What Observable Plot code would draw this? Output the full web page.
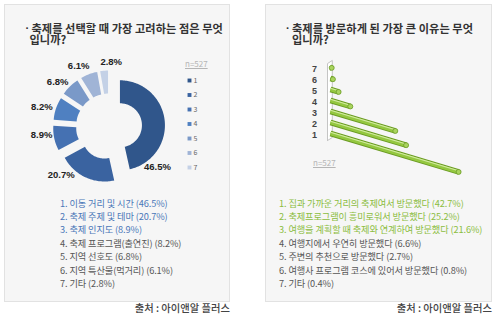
<!DOCTYPE html>
<html><head><meta charset="utf-8">
<script src="https://cdn.jsdelivr.net/npm/d3@7"></script>
<script src="https://cdn.jsdelivr.net/npm/@observablehq/plot@0.6"></script>
<style>
body{margin:0;background:#fff;font-family:"Noto Sans CJK KR","Noto Sans",sans-serif;}
#page{position:relative;width:495px;height:325px;overflow:hidden;}
.box{position:absolute;background:#f6f6f6;border:1px solid #e2e2e2;box-sizing:border-box;}
.abs{position:absolute;white-space:nowrap;}
.title{font-size:11.2px;font-weight:bold;color:#333;line-height:11px;letter-spacing:0.05px;}
.title .dot{position:absolute;left:-6px;top:0;font-family:"Liberation Sans",Arial,sans-serif;}
.legend{font-size:9.2px;line-height:13.4px;letter-spacing:-0.1px;}
.n{font-size:8px;color:#b5b5b5;text-decoration:underline;}
.src{font-size:10.3px;color:#444;line-height:12px;font-weight:500;}
svg{overflow:visible;}
</style></head>
<body><div id="page">
<div class="box" style="left:4px;top:4px;width:226px;height:298px;"></div>
<div class="box" style="left:265px;top:4px;width:227px;height:298px;"></div>
<div class="abs title" style="left:31.5px;top:23px;"><span class="dot">·</span>축제를 선택할 때 가장 고려하는 점은 무엇<br><span style="margin-left:-2px">입니까?</span></div>
<div class="abs title" style="left:292px;top:23px;"><span class="dot">·</span>축제를 방문하게 된 가장 큰 이유는 무엇<br>입니까?</div>
<div id="donut" class="abs" style="left:4px;top:40px;"></div>
<div id="bars" class="abs" style="left:265px;top:50px;"></div>
<div id="nL" class="abs n" style="left:185px;top:58px;"></div>
<div id="nR" class="abs n" style="left:313px;top:157px;"></div>
<div id="legL" class="abs legend" style="left:60px;top:196.5px;"></div>
<div id="legR" class="abs legend" style="left:279px;top:196.5px;"></div>
<div class="abs src" style="right:265px;top:302px;">출처 : 아이앤알 플러스</div>
<div class="abs src" style="right:3px;top:302px;">출처 : 아이앤알 플러스</div>
</div>
<script>
// ---- data ----
const sampleSize = 527;
const keys = ["1","2","3","4","5","6","7"];
const choiceReasons = ["이동 거리 및 시간","축제 주제 및 테마","축제 인지도","축제 프로그램(출연진)","지역 선호도","지역 특산물(먹거리)","기타"];
const choiceShares = [46.5,20.7,8.9,8.2,6.8,6.1,2.8];
const visitReasons = ["집과 가까운 거리의 축제여서 방문했다","축제프로그램이 흥미로워서 방문했다","여행을 계획할 때 축제와 연계하여 방문했다","여행지에서 우연히 방문했다","주변의 추천으로 방문했다","여행사 프로그램 코스에 있어서 방문했다","기타"];
const visitShares = [42.7,25.2,21.6,6.6,2.7,0.8,0.4];

// ---- styles ----
const blues = ["#30568b","#3a63a0","#4571b2","#4f80c1","#7a99c8","#a0b4d6","#c4d1e6"];
const font = "'Noto Sans CJK KR', sans-serif";

// ---- donut ----
const CX = 104.5, CY = 86, RO = 45, RI = 22, EXP = 11;
const labelNudgeDeg = [46, 20, 4.6, -2.2, -4.7, -5.4, 7];
const labelDist = [63, 68, 68, 70, 68, 68, 65];
const total = d3.sum(choiceShares);
let acc = 0;
const slices = choiceShares.map((v, i) => {
  const a0 = acc / total * 2 * Math.PI; acc += v;
  const a1 = acc / total * 2 * Math.PI;
  const am = (a0 + a1) / 2;
  const la = am + labelNudgeDeg[i] * Math.PI / 180;
  return {i, key: keys[i], v, a0, a1, am,
    lx: CX + labelDist[i] * Math.sin(la), ly: CY - labelDist[i] * Math.cos(la)};
});
const pts = [];
for (const s of slices) {
  const ox = EXP * Math.sin(s.am), oy = -EXP * Math.cos(s.am);
  const n = Math.max(4, Math.ceil((s.a1 - s.a0) * 40));
  for (let k = 0; k <= n; k++) {
    const a = s.a0 + (s.a1 - s.a0) * k / n;
    pts.push({key: s.key, x: CX + ox + RO * Math.sin(a), y: CY + oy - RO * Math.cos(a)});
  }
  for (let k = n; k >= 0; k--) {
    const a = s.a0 + (s.a1 - s.a0) * k / n;
    pts.push({key: s.key, x: CX + ox + RI * Math.sin(a), y: CY + oy - RI * Math.cos(a)});
  }
}
const LEG_X = 185, LEG_Y0 = 40, LEG_DY = 14.5;
const donut = Plot.plot({
  width: 226, height: 160, margin: 0,
  x: {domain: [0, 226], range: [0, 226], axis: null},
  y: {domain: [0, 160], range: [0, 160], axis: null},
  color: {domain: keys, range: blues},
  style: {background: "transparent", fontFamily: font, overflow: "visible"},
  marks: [
    Plot.line(pts, {x: "x", y: "y", z: "key", fill: "key", stroke: "none"}),
    Plot.text(slices, {x: "lx", y: "ly", text: d => d.v.toFixed(1) + "%", fontWeight: "bold", fontSize: 9.5, fill: "#222", fontFamily: "Liberation Sans, Arial, sans-serif", letterSpacing: "-0.4px"}),
    Plot.dot(slices, {x: LEG_X, y: d => LEG_Y0 + d.i * LEG_DY, symbol: "square", r: 2.2, fill: "key"}),
    Plot.text(slices, {x: LEG_X + 4, y: d => LEG_Y0 + d.i * LEG_DY, text: "key", textAnchor: "start", fontSize: 7, fill: "#666"})
  ]
});
document.getElementById("donut").appendChild(donut);

// ---- skewed bars ----
const SLOPE = 0.9 / 11;
const bars = visitShares.map((v, i) => ({rank: +keys[i], v}));
const wall = [{x:-1,y:0.36},{x:-1,y:7.36},{x:0.6,y:7.64},{x:0.6,y:0.64},{x:-1,y:0.36}];
const endY = d => d.rank - d.v * SLOPE;
const barPlot = Plot.plot({
  width: 227, height: 140, margin: 0,
  x: {domain: [0, 45], range: [65, 200], axis: null},
  y: {domain: [1, 7], range: [83, 17], axis: null},
  style: {background: "transparent", fontFamily: font, overflow: "visible"},
  marks: [
    Plot.line(wall, {x: "x", y: "y", fill: "#ffffff", stroke: "#c4c4c4", strokeWidth: 1}),
    Plot.link(bars, {x1: 0, y1: "rank", x2: "v", y2: endY, stroke: "#6a9a22", strokeWidth: 5.5}),
    Plot.link(bars, {x1: 0, y1: "rank", x2: "v", y2: endY, stroke: "#94c840", strokeWidth: 3.6}),
    Plot.link(bars, {x1: 0, y1: "rank", x2: "v", y2: endY, stroke: "#d2eba0", strokeWidth: 1.2, dy: -1.2}),
    Plot.dot(bars, {x: "v", y: endY, r: 2.5, fill: "#a9d45e", stroke: "#6a9a22", strokeWidth: 0.8}),
    Plot.text(bars, {x: -5.3, y: "rank", dy: 2, text: d => String(d.rank), fontWeight: "bold", fontSize: 9, fill: "#444", fontFamily: "Liberation Sans, Arial, sans-serif"})
  ]
});
document.getElementById("bars").appendChild(barPlot);

// ---- text legends ----
document.getElementById("nL").textContent = "n=" + sampleSize;
document.getElementById("nR").textContent = "n=" + sampleSize;
const mk = (id, reasons, shares, hi) => {
  document.getElementById(id).innerHTML = reasons.map((r, i) =>
    `<div style="color:${i < 3 ? hi : '#555'}">${i + 1}. ${r} (${shares[i].toFixed(1)}%)</div>`).join("");
};
mk("legL", choiceReasons, choiceShares, "#4a76b8");
mk("legR", visitReasons, visitShares, "#8bbd3e");
</script>
</body></html>
